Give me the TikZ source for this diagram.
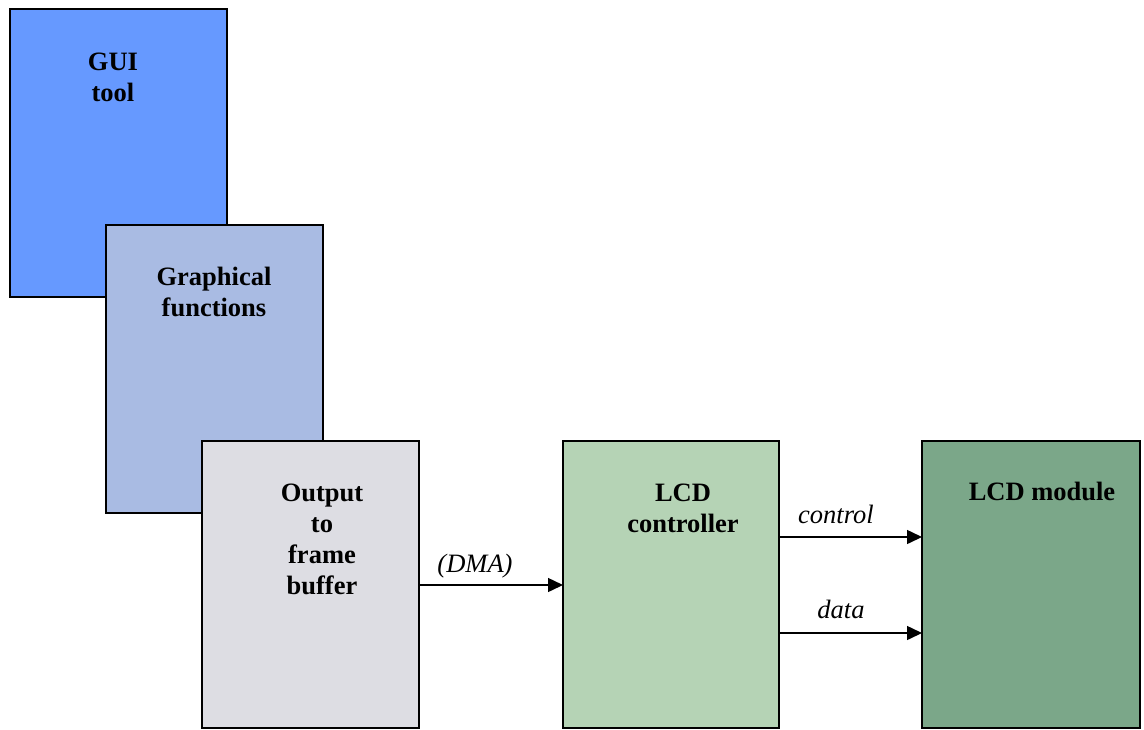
\documentclass[tikz,border=0pt]{standalone}
\usepackage{fontspec}
\setmainfont{Liberation Serif}
\usetikzlibrary{arrows.meta}
\definecolor{guiblue}{RGB}{102,153,255}
\definecolor{gfxblue}{RGB}{169,187,227}
\definecolor{fbgrey}{RGB}{221,221,227}
\definecolor{ctrlgreen}{RGB}{181,211,181}
\definecolor{modgreen}{RGB}{123,167,137}
\tikzset{
  block/.style={draw=black, line width=1.5pt, rectangle, inner sep=0pt, outer sep=0pt,
    anchor=north west, minimum height=288pt},
  blocktext/.style={font=\fontsize{26.5}{31}\selectfont\bfseries, align=center, anchor=base, inner sep=0pt},
  flowlabel/.style={font=\fontsize{26.5}{31}\selectfont\itshape, anchor=base, inner sep=0pt},
  flow/.style={line width=1.5pt, -{Triangle[length=15pt,width=14pt]}}
}
\begin{document}
\begin{tikzpicture}[x=1pt,y=-1pt]
  \useasboundingbox (0,0) rectangle (1144,729);
  % software layers, stacked (text anchored at the baseline of the last line)
  \node[block, fill=guiblue, minimum width=217pt] (gui) at (10,9) {};
  \node[blocktext] (guitxt) at (113,101) {GUI\\tool};
  \node[block, fill=gfxblue, minimum width=217pt] (gfx) at (106,225) {};
  \node[blocktext] (gfxtxt) at (214,316) {Graphical\\functions};
  \node[block, fill=fbgrey, minimum width=217pt, minimum height=287pt] (fb) at (202,441) {};
  \node[blocktext] (fbtxt) at (322,594) {Output\\to\\frame\\buffer};
  % hardware
  \node[block, fill=ctrlgreen, minimum width=216pt, minimum height=287pt] (ctrl) at (563,441) {};
  \node[blocktext] (ctrltxt) at (683,532) {LCD\\controller};
  \node[block, fill=modgreen, minimum width=218pt, minimum height=287pt] (mod) at (922,441) {};
  \node[blocktext] (modtxt) at (1042,500) {LCD module};
  % connections
  \draw[flow] (fb.east |- 0,585) -- (ctrl.west |- 0,585);
  \node[flowlabel] (dma) at (475,572) {(DMA)};
  \draw[flow] (ctrl.east |- 0,537) -- (mod.west |- 0,537);
  \node[flowlabel] (ctl) at (836,523) {control};
  \draw[flow] (ctrl.east |- 0,633) -- (mod.west |- 0,633);
  \node[flowlabel] (dat) at (841,618) {data};
\end{tikzpicture}
\end{document}
